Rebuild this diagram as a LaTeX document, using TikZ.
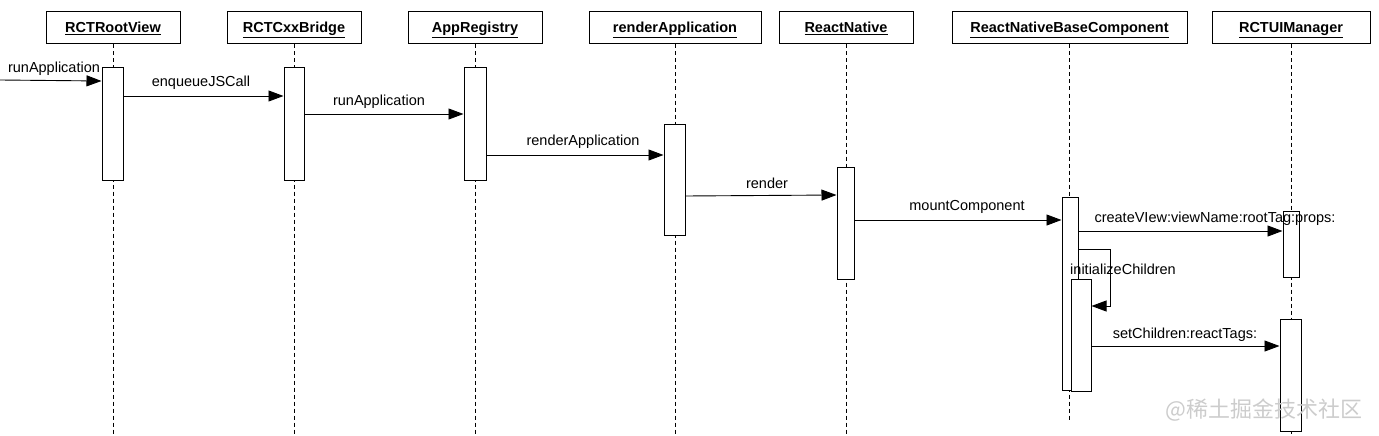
\documentclass[tikz,border=0pt]{standalone}
\usepackage{fontspec}
\setmainfont{Liberation Sans}
\newfontfamily\cjk{Noto Sans CJK SC}
\usepackage{tikz}
\usetikzlibrary{arrows.meta}

\begin{document}
\begin{tikzpicture}[x=1pt, y=-1pt,
  head/.style={draw, line width=1pt, minimum height=32, inner sep=0pt, text height=14, text depth=4, font=\fontsize{14.5}{16}\selectfont\bfseries},
  act/.style={draw, fill=white, line width=1pt, inner sep=0pt, minimum height=112},
  lbl/.style={inner sep=0pt, font=\fontsize{14.5}{16}\selectfont},
  msg/.style={line width=0.9pt, -{Triangle[length=15pt, width=11pt]}},
  life/.style={line width=0.8pt, dash pattern=on 4pt off 3pt}]
\useasboundingbox (0,0) rectangle (1379,436);
\node[head, minimum width=134] (rv) at (113, 28) {\underline{RCTRootView}};
\node[head, minimum width=134] (br) at (294, 28) {\underline{RCTCxxBridge}};
\node[head, minimum width=134] (ar) at (475, 28) {\underline{AppRegistry}};
\node[head, minimum width=172] (ra) at (675, 28) {\underline{renderApplication}};
\node[head, minimum width=134] (rn) at (846, 28) {\underline{ReactNative}};
\node[head, minimum width=235] (bc) at (1069.5, 28) {\underline{ReactNativeBaseComponent}};
\node[head, minimum width=158] (ui) at (1291, 28) {\underline{RCTUIManager}};
\draw[life] (rv) -- (rv |- 0,436);
\draw[life] (br) -- (br |- 0,436);
\draw[life] (ar) -- (ar |- 0,436);
\draw[life] (ra) -- (ra |- 0,436);
\draw[life] (rn) -- (rn |- 0,436);
\draw[life] (bc) -- (bc |- 0,422);
\draw[life] (ui) -- (ui |- 0,436);
\node[act, minimum width=21] (rvA) at (112.5, 124) {};
\node[act, minimum width=20] (brA) at (294, 124) {};
\node[act, minimum width=22] (arA) at (475, 124) {};
\node[act, minimum width=21, minimum height=111] (raA) at (674.5, 179.5) {};
\node[act, minimum width=17] (rnA) at (845.5, 223) {};
\node[act, minimum width=16, minimum height=193] (bcA) at (1070, 293.5) {};
\node[act, minimum width=20] (bcB) at (1081, 335) {};
\node[act, minimum width=16, minimum height=66] (uiA) at (1291, 244) {};
\node[act, minimum width=21] (uiB) at (1290.5, 375) {};
\coordinate (src) at (0, 80);
\draw[msg] (src) -- (rvA.west |- 0,81);
\draw[msg] (rvA.east |- 0,96) -- (brA.west |- 0,96);
\draw[msg] (brA.east |- 0,114) -- (arA.west |- 0,114);
\draw[msg] (arA.east |- 0,155) -- (raA.west |- 0,155);
\draw[msg] (raA.east |- 0,196) -- (rnA.west |- 0,195);
\draw[msg] (rnA.east |- 0,220) -- (bcA.west |- 0,220);
\draw[msg] (bcA.east |- 0,231) -- (uiA.west |- 0,231);
\draw[msg] (bcA.east |- 0,249) -- ++(32,0) |- (bcB.east |- 0,306);
\draw[msg] (bcB.east |- 0,346) -- (uiB.west |- 0,346);
\node[lbl] (m0) at (54, 69) {runApplication};
\node[lbl] (m1) at (201, 83) {enqueueJSCall};
\node[lbl] (m2) at (379, 102) {runApplication};
\node[lbl] (m3) at (583, 142) {renderApplication};
\node[lbl] (m4) at (767, 183) {render};
\node[lbl] (m5) at (967, 207) {mountComponent};
\node[lbl] (m6) at (1215, 219) {createVIew:viewName:rootTag:props:};
\node[lbl] (m7) at (1123, 269) {initializeChildren};
\node[lbl] (m8) at (1185, 335) {setChildren:reactTags:};
\node[text=gray!40, inner sep=0pt, font=\cjk\fontsize{22}{22}\selectfont] (wm) at (1264, 410) {@稀土掘金技术社区};
\end{tikzpicture}
\end{document}
